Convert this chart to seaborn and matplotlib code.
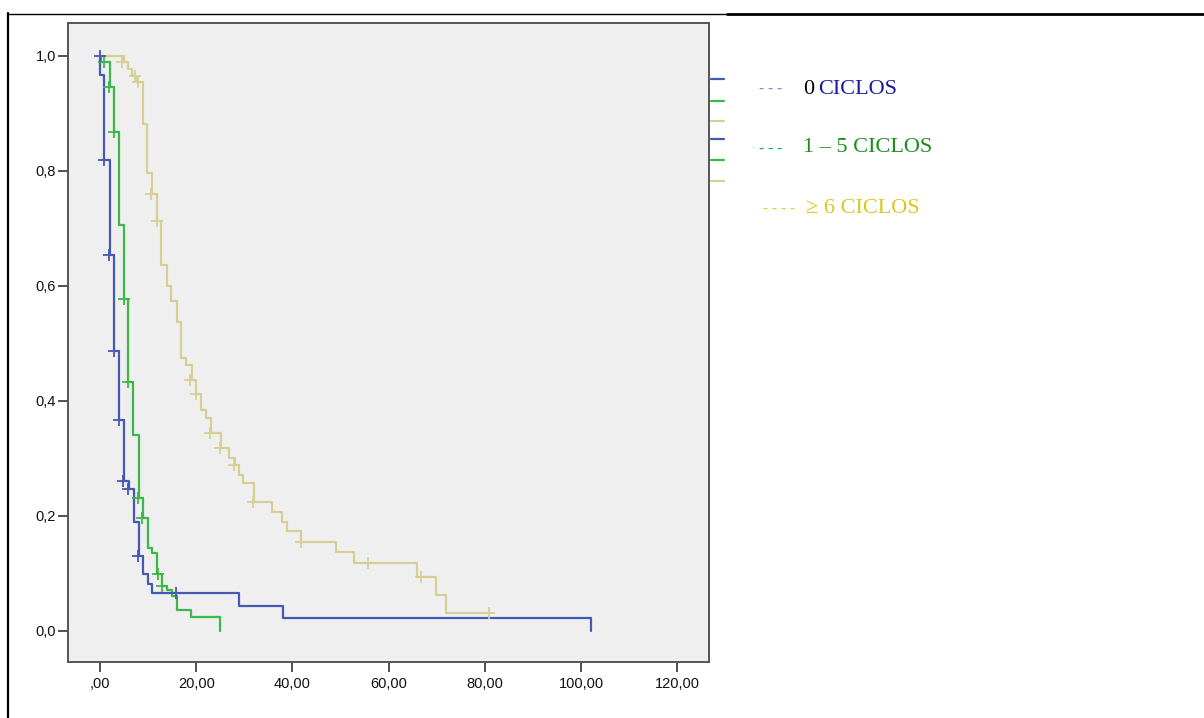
import numpy as np
import pandas as pd
import matplotlib
matplotlib.use("Agg")
import matplotlib.pyplot as plt
from matplotlib.lines import Line2D
import seaborn as sns

# Kaplan-Meier step data: event times and survival after each event
groups = ["0 CICLOS", "1 – 5 CICLOS", "≥ 6 CICLOS"]

t_0 = [0.0, 0.1, 0.85, 2.0, 2.9, 3.95, 5.0, 5.95, 7.0, 8.05, 8.95, 10.0, 10.9, 28.9, 38.0, 102.0]
s_0 = [1.0, 0.967, 0.819, 0.654, 0.487, 0.367, 0.26, 0.247, 0.19, 0.131, 0.099, 0.082, 0.066, 0.044, 0.023, 0.0]
ct_0 = [0.0, 0.85, 1.9, 2.85, 3.9, 4.8, 5.85, 7.9, 15.9]
cs_0 = [1.0, 0.819, 0.654, 0.487, 0.367, 0.26, 0.247, 0.131, 0.066]

t_1 = [0.0, 0.2, 2.0, 2.9, 3.95, 4.9, 5.9, 6.9, 8.05, 8.95, 10.0, 10.9, 11.95, 12.9, 14.0, 14.9, 15.95, 18.9, 24.9]
s_1 = [1.0, 0.99, 0.946, 0.867, 0.706, 0.577, 0.432, 0.34, 0.232, 0.197, 0.144, 0.135, 0.099, 0.079, 0.071, 0.06, 0.037, 0.025, 0.0]
ct_1 = [0.77, 1.9, 2.85, 4.9, 5.8, 7.9, 8.75, 12.0, 12.85]
cs_1 = [0.99, 0.946, 0.867, 0.577, 0.432, 0.232, 0.197, 0.099, 0.079]

t_2 = [0.0, 5.0, 5.8, 6.7, 7.6, 8.95, 9.85, 10.9, 11.85, 12.75, 13.95, 14.85, 16.0, 16.9, 17.85,
       19.1, 20.0, 20.95, 22.0, 23.0, 25.1, 26.8, 28.1, 28.9, 29.8, 32.0, 35.8, 37.9, 38.8, 41.8,
       49.0, 52.9, 65.9, 69.8, 71.9, 81.0]
s_2 = [1.0, 0.99, 0.977, 0.964, 0.954, 0.882, 0.797, 0.759, 0.712, 0.637, 0.6, 0.574, 0.537, 0.474, 0.462,
       0.437, 0.412, 0.384, 0.371, 0.345, 0.318, 0.301, 0.289, 0.271, 0.257, 0.225, 0.207, 0.189, 0.173, 0.155,
       0.138, 0.118, 0.094, 0.063, 0.032, 0.032]
ct_2 = [4.6, 7.2, 7.9, 10.7, 11.85, 18.8, 19.9, 22.8, 25.0, 27.9, 31.8, 41.7, 55.8, 66.8, 80.9]
cs_2 = [0.99, 0.964, 0.954, 0.759, 0.712, 0.437, 0.412, 0.345, 0.318, 0.289, 0.225, 0.155, 0.118, 0.094, 0.032]

x_ticks = [0, 20, 40, 60, 80, 100, 120]
x_labels = [",00", "20,00", "40,00", "60,00", "80,00", "100,00", "120,00"]
y_ticks = [0.0, 0.2, 0.4, 0.6, 0.8, 1.0]
y_labels = ["0,0", "0,2", "0,4", "0,6", "0,8", "1,0"]

line_colors = ["#4658b5", "#3cb84a", "#d5cf96"]

curves = pd.concat([
    pd.DataFrame({"t": t_0, "s": s_0, "grupo": groups[0]}),
    pd.DataFrame({"t": t_1, "s": s_1, "grupo": groups[1]}),
    pd.DataFrame({"t": t_2, "s": s_2, "grupo": groups[2]}),
], ignore_index=True)
censored = pd.concat([
    pd.DataFrame({"t": ct_0, "s": cs_0, "grupo": groups[0]}),
    pd.DataFrame({"t": ct_1, "s": cs_1, "grupo": groups[1]}),
    pd.DataFrame({"t": ct_2, "s": cs_2, "grupo": groups[2]}),
], ignore_index=True)

sns.set_style("white")
plt.rcParams["font.family"] = ["Liberation Sans", "DejaVu Sans"]

fig = plt.figure(figsize=(12.04, 7.18), dpi=100)
ax = fig.add_axes([68 / 1204, 1 - 662 / 718, (709 - 68) / 1204, (662 - 23) / 718])
ax.set_facecolor("#efefef")

palette = dict(zip(groups, line_colors))
# draw in reverse so the first group sits on top
for g in groups[::-1]:
    sub = curves[curves["grupo"] == g]
    sns.lineplot(data=sub, x="t", y="s", color=palette[g], estimator=None, sort=False,
                 drawstyle="steps-post", linewidth=1.6, ax=ax, legend=False)
    csub = censored[censored["grupo"] == g]
    sns.scatterplot(data=csub, x="t", y="s", color=palette[g], marker="+", s=70,
                    linewidth=1.3, ax=ax, legend=False, zorder=3)

ax.set_xlim(-6.65, 126.6)
ax.set_ylim(-0.054, 1.057)
ax.set_xticks(x_ticks)
ax.set_xticklabels(x_labels)
ax.set_yticks(y_ticks)
ax.set_yticklabels(y_labels)
ax.set_xlabel("")
ax.set_ylabel("")
ax.tick_params(axis="both", which="major", direction="out", length=7, width=1.1,
               color="#222222", labelsize=10.5, labelcolor="#111111")
ax.tick_params(axis="x", pad=4)
ax.tick_params(axis="y", pad=1.5)
ax.tick_params(left=True, bottom=True)
for sp in ax.spines.values():
    sp.set_visible(True)
    sp.set_color("#555555")
    sp.set_linewidth(1.4)

# small coloured key stubs at the right edge of the plot
W, H = 1204, 718
stub_rows = [79, 101, 121, 139, 160, 181]
stub_cols = [line_colors[0], line_colors[1], line_colors[2]] * 2
for yy, cc in zip(stub_rows, stub_cols):
    fig.add_artist(Line2D([711 / W, 724 / W], [1 - yy / H, 1 - yy / H], color=cc, linewidth=1.6))

# typed legend
serif = ["Liberation Serif", "DejaVu Serif"]
fs = 16
fig.text(759 / W, 1 - 89 / H, "- - -", color="#6a8fd0", fontsize=11, family=serif, va="center")
fig.text(803 / W, 1 - 89 / H, "0", color="black", fontsize=fs, family=serif, va="center")
fig.text(818 / W, 1 - 89 / H, "CICLOS", color="#1b1b9c", fontsize=fs, family=serif, va="center")
fig.text(759 / W, 1 - 148 / H, "- - -", color="#00b050", fontsize=11, family=serif, va="center")
fig.text(803 / W, 1 - 148 / H, "1 – 5 CICLOS", color="#1a8f1a", fontsize=fs, family=serif, va="center")
fig.text(763 / W, 1 - 208 / H, "- - - -", color="#e0cf1a", fontsize=11, family=serif, va="center")
fig.text(806 / W, 1 - 208 / H, "≥ 6 CICLOS", color="#d8c81c", fontsize=fs, family=serif, va="center")

# outer cell border
fig.add_artist(Line2D([7 / W, 727 / W], [1 - 13.5 / H, 1 - 13.5 / H], color="black", linewidth=1.0))
fig.add_artist(Line2D([727 / W, 1.0], [1 - 14 / H, 1 - 14 / H], color="black", linewidth=2.0))
fig.add_artist(Line2D([7.5 / W, 7.5 / W], [0.0, 1 - 13 / H], color="black", linewidth=1.6))

fig.savefig("out.png", dpi=100, facecolor="white")
